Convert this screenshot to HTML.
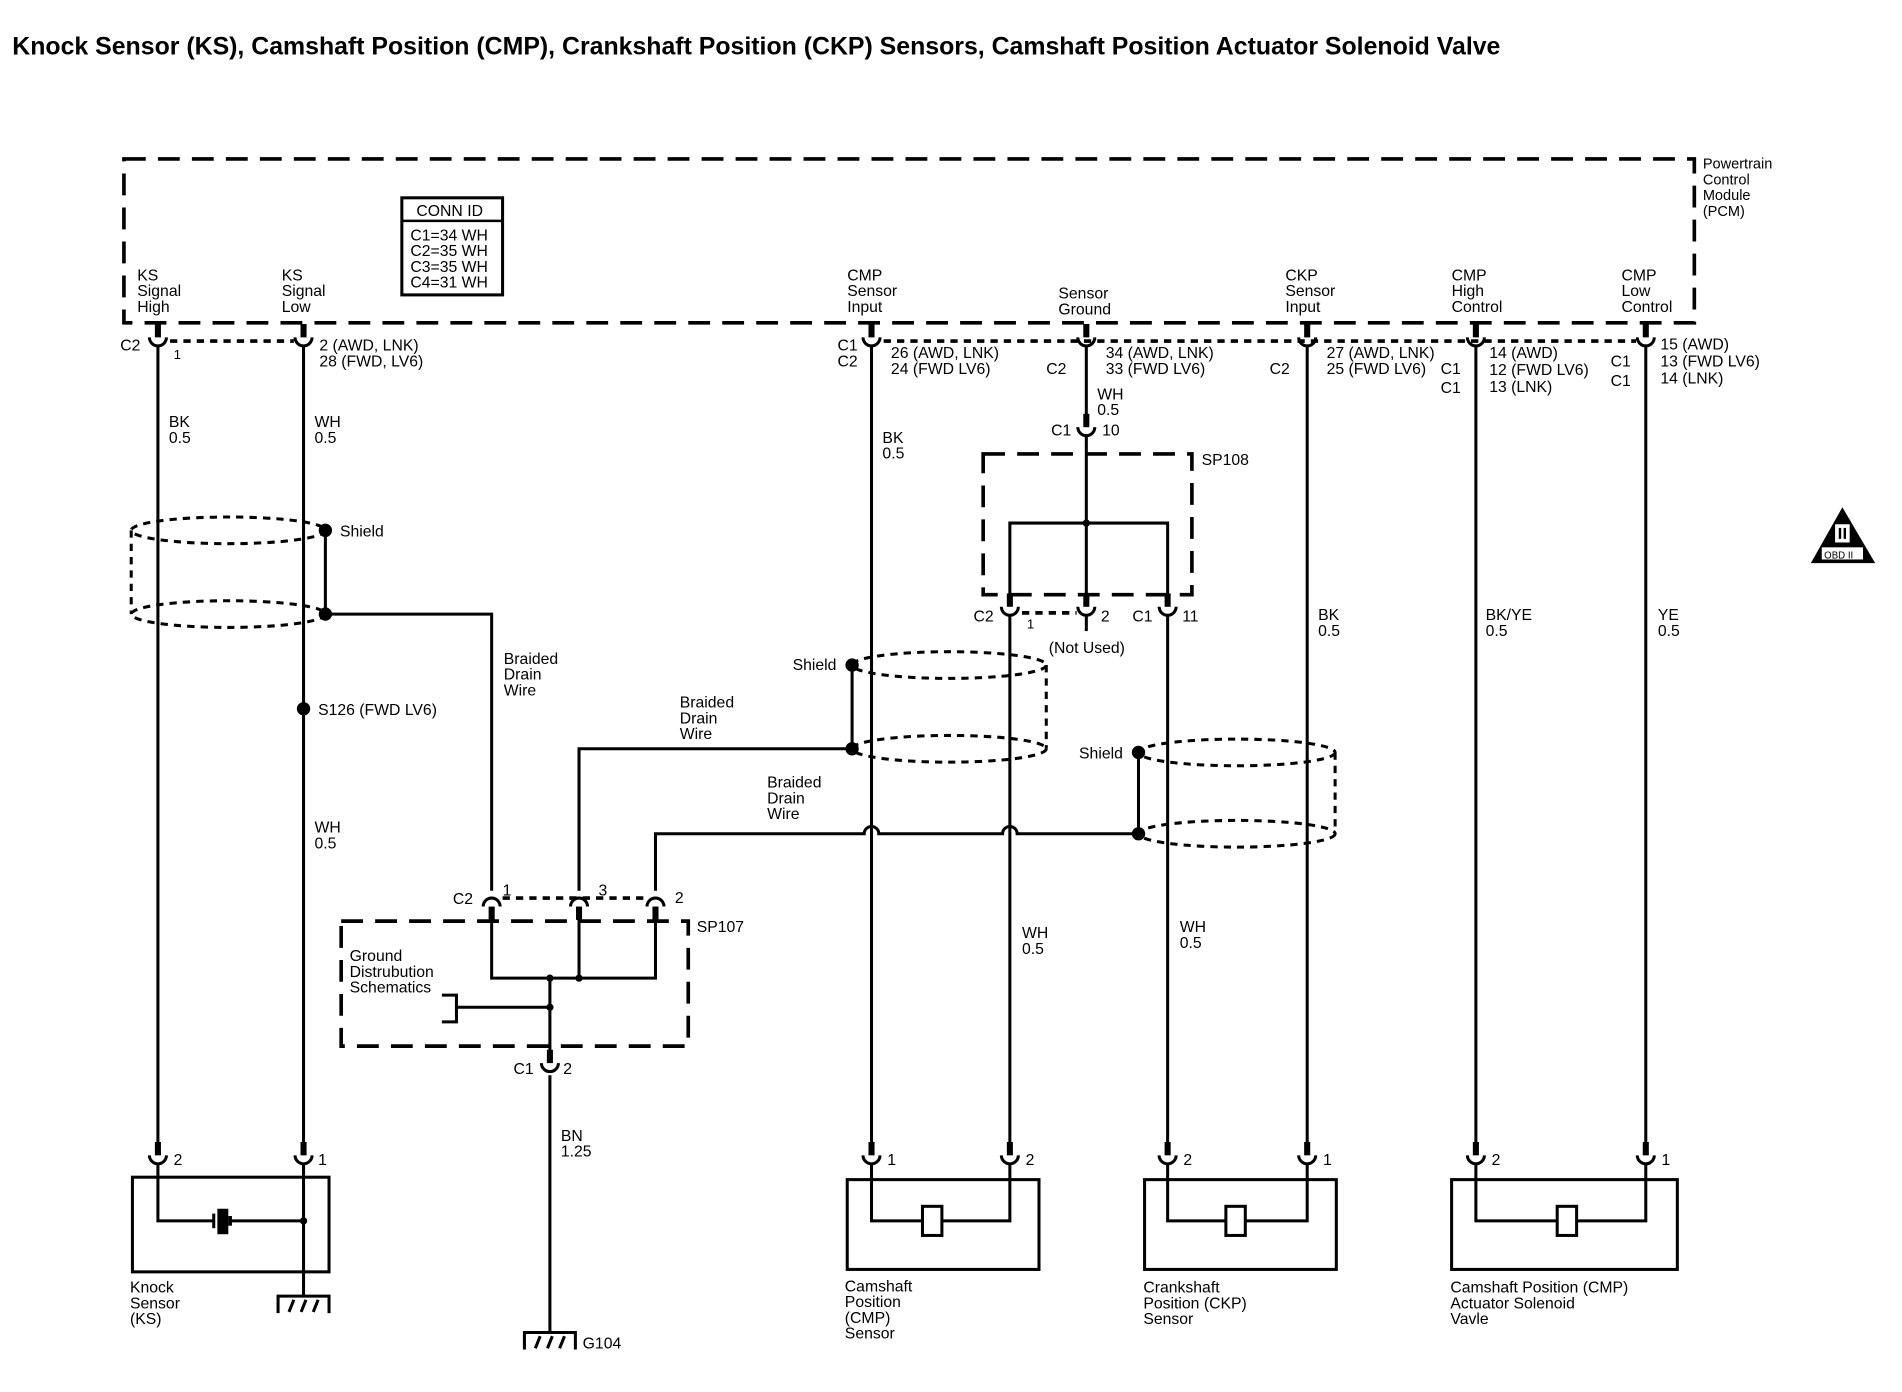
<!DOCTYPE html>
<html><head><meta charset="utf-8"><style>
html,body{margin:0;padding:0;background:#fff;}
svg{display:block;}
text{font-family:"Liberation Sans",sans-serif;font-size:13px;fill:#000;}
</style></head><body>
<svg width="1902" height="1392" viewBox="0 0 1567 1147" xmlns="http://www.w3.org/2000/svg">
<defs>
<g id="cu"><rect x="-2.5" y="-16" width="5" height="11" fill="#000"/><path d="M-7,-5 A7,7 0 0 0 7,-5" fill="none" stroke="#000" stroke-width="2.5"/></g>
<g id="cd"><rect x="-2.5" y="5" width="5" height="11" fill="#000"/><path d="M-7,5 A7,7 0 0 1 7,5" fill="none" stroke="#000" stroke-width="2.5"/></g>
<g id="gnd"><path d="M-21,14 V0 H21 V14" fill="none" stroke="#000" stroke-width="2.5"/><path d="M-12,13 L-8,3 M-2,13 L2,3 M8,13 L12,3" stroke="#000" stroke-width="2.5"/></g>
</defs>
<text x="10" y="45" style="font-size:20.5px;font-weight:bold">Knock Sensor (KS), Camshaft Position (CMP), Crankshaft Position (CKP) Sensors, Camshaft Position Actuator Solenoid Valve</text>

<g fill="none" stroke="#000" stroke-width="3" stroke-dasharray="18 10">
<rect x="102" y="131" width="1294" height="135"/>
<rect x="810" y="374" width="172" height="116"/>
<rect x="281" y="759" width="286" height="103"/>
</g>
<g style="font-size:12px">
<text x="1403" y="139" style="font-size:12px">Powertrain</text><text x="1403" y="152" style="font-size:12px">Control</text><text x="1403" y="165" style="font-size:12px">Module</text><text x="1403" y="178" style="font-size:12px">(PCM)</text>
</g>
<rect x="331" y="163" width="83" height="80" fill="none" stroke="#000" stroke-width="2.5"/>
<line x1="331" y1="182" x2="414" y2="182" stroke="#000" stroke-width="2"/>
<text x="343" y="178">CONN ID</text>
<text x="338" y="198">C1=34 WH</text><text x="338" y="211">C2=35 WH</text><text x="338" y="224">C3=35 WH</text><text x="338" y="237">C4=31 WH</text>

<text x="113" y="231">KS</text><text x="113" y="244">Signal</text><text x="113" y="257">High</text>
<text x="232" y="231">KS</text><text x="232" y="244">Signal</text><text x="232" y="257">Low</text>
<text x="698" y="231">CMP</text><text x="698" y="244">Sensor</text><text x="698" y="257">Input</text>
<text x="872" y="246">Sensor</text><text x="872" y="259">Ground</text>
<text x="1059" y="231">CKP</text><text x="1059" y="244">Sensor</text><text x="1059" y="257">Input</text>
<text x="1196" y="231">CMP</text><text x="1196" y="244">High</text><text x="1196" y="257">Control</text>
<text x="1336" y="231">CMP</text><text x="1336" y="244">Low</text><text x="1336" y="257">Control</text>

<g stroke="#000" stroke-width="3" stroke-dasharray="6 5">
<line x1="140" y1="281" x2="242" y2="281"/>
<line x1="728" y1="281" x2="1348" y2="281"/>
<line x1="842" y1="505" x2="887" y2="505"/>
<line x1="414" y1="740" x2="532" y2="740"/>
</g>

<g stroke="#000" stroke-width="2.5" fill="none">
<line x1="130" y1="285" x2="130" y2="944"/>
<line x1="250" y1="285" x2="250" y2="944"/>
<line x1="718" y1="285" x2="718" y2="944"/>
<line x1="895" y1="285" x2="895" y2="346"/>
<line x1="895" y1="360" x2="895" y2="498"/>
<line x1="1077" y1="285" x2="1077" y2="944"/>
<line x1="1216" y1="285" x2="1216" y2="944"/>
<line x1="1356" y1="285" x2="1356" y2="944"/>
<polyline points="832,498 832,431 962,431 962,498"/>
<line x1="832" y1="507" x2="832" y2="944"/>
<line x1="962" y1="507" x2="962" y2="944"/>
<line x1="895" y1="507" x2="895" y2="520"/>
<line x1="268" y1="437" x2="268" y2="506"/>
<polyline points="268,506 405,506 405,734"/>
<line x1="702" y1="548" x2="702" y2="617"/>
<polyline points="702,617 477,617 477,734"/>
<line x1="938" y1="620" x2="938" y2="687"/>
<path d="M938,687 H838 A6,6 0 0 0 826,687 H724 A6,6 0 0 0 712,687 H540 V734"/>
<polyline points="405,748 405,806 540,806 540,748"/>
<line x1="477" y1="748" x2="477" y2="806"/>
<line x1="453" y1="806" x2="453" y2="872"/>
<line x1="376" y1="830" x2="453" y2="830"/>
<polyline points="364,820 376,820 376,842 364,842"/>
<line x1="453" y1="886" x2="453" y2="1098"/>
</g>
<g fill="#000">
<circle cx="895" cy="431" r="3"/><circle cx="453" cy="806" r="3"/><circle cx="477" cy="806" r="3"/><circle cx="453" cy="830" r="3"/>
<circle cx="268" cy="437" r="5.5"/><circle cx="268" cy="506" r="5.5"/><circle cx="250" cy="584" r="5.5"/>
<circle cx="702" cy="548" r="5.5"/><circle cx="702" cy="617" r="5.5"/>
<circle cx="938" cy="620" r="5.5"/><circle cx="938" cy="687" r="5.5"/>
</g>
<g fill="none" stroke="#000" stroke-width="2.5" stroke-dasharray="6 5">
<ellipse cx="188" cy="437" rx="80" ry="11"/><ellipse cx="188" cy="506" rx="80" ry="11"/>
<line x1="108" y1="437" x2="108" y2="506"/>
<ellipse cx="782" cy="548" rx="80" ry="11"/><ellipse cx="782" cy="617" rx="80" ry="11"/>
<line x1="862" y1="548" x2="862" y2="617"/>
<ellipse cx="1019" cy="620" rx="81" ry="11"/><ellipse cx="1019" cy="687" rx="81" ry="11"/>
<line x1="1100" y1="620" x2="1100" y2="687"/>
</g>

<use href="#cu" x="130" y="283"/><use href="#cu" x="250" y="283"/>
<use href="#cu" x="718" y="283"/><use href="#cu" x="895" y="283"/>
<use href="#cu" x="1077" y="283"/><use href="#cu" x="1216" y="283"/><use href="#cu" x="1356" y="283"/>
<use href="#cu" x="895" y="357"/>
<use href="#cu" x="832" y="505"/><use href="#cu" x="895" y="505"/><use href="#cu" x="962" y="505"/>
<use href="#cd" x="405" y="742"/><use href="#cd" x="477" y="742"/><use href="#cd" x="540" y="742"/>
<use href="#cu" x="453" y="881"/>
<use href="#cu" x="130" y="957"/><use href="#cu" x="250" y="957"/>
<use href="#cu" x="718" y="957"/><use href="#cu" x="832" y="957"/>
<use href="#cu" x="962" y="957"/><use href="#cu" x="1077" y="957"/>
<use href="#cu" x="1216" y="957"/><use href="#cu" x="1356" y="957"/>

<text x="99" y="289">C2</text><text x="143" y="296" style="font-size:11px">1</text>
<text x="263" y="289">2 (AWD, LNK)</text><text x="263" y="302">28 (FWD, LV6)</text>
<text x="690" y="289">C1</text><text x="690" y="302">C2</text>
<text x="734" y="295">26 (AWD, LNK)</text><text x="734" y="308">24 (FWD LV6)</text>
<text x="862" y="308">C2</text>
<text x="911" y="295">34 (AWD, LNK)</text><text x="911" y="308">33 (FWD LV6)</text>
<text x="1046" y="308">C2</text>
<text x="1093" y="295">27 (AWD, LNK)</text><text x="1093" y="308">25 (FWD LV6)</text>
<text x="1187" y="308">C1</text><text x="1187" y="324">C1</text>
<text x="1227" y="295">14 (AWD)</text><text x="1227" y="309">12 (FWD LV6)</text><text x="1227" y="323">13 (LNK)</text>
<text x="1327" y="302">C1</text><text x="1327" y="318">C1</text>
<text x="1368" y="288">15 (AWD)</text><text x="1368" y="302">13 (FWD LV6)</text><text x="1368" y="316">14 (LNK)</text>

<text x="139" y="352">BK</text><text x="139" y="365">0.5</text>
<text x="259" y="352">WH</text><text x="259" y="365">0.5</text>
<text x="727" y="365">BK</text><text x="727" y="378">0.5</text>
<text x="904" y="329">WH</text><text x="904" y="342">0.5</text>
<text x="866" y="359">C1</text><text x="908" y="359">10</text>
<text x="990" y="383">SP108</text>
<text x="280" y="442">Shield</text>
<text x="262" y="589">S126 (FWD LV6)</text>
<text x="259" y="686">WH</text><text x="259" y="699">0.5</text>
<text x="415" y="547">Braided</text><text x="415" y="560">Drain</text><text x="415" y="573">Wire</text>
<text x="560" y="583">Braided</text><text x="560" y="596">Drain</text><text x="560" y="609">Wire</text>
<text x="632" y="649">Braided</text><text x="632" y="662">Drain</text><text x="632" y="675">Wire</text>
<text x="653" y="552">Shield</text>
<text x="889" y="625">Shield</text>
<text x="802" y="512">C2</text><text x="846" y="518" style="font-size:11px">1</text>
<text x="907" y="512">2</text><text x="864" y="538">(Not Used)</text>
<text x="933" y="512">C1</text><text x="974" y="512">11</text>
<text x="1086" y="511">BK</text><text x="1086" y="524">0.5</text>
<text x="1224" y="511">BK/YE</text><text x="1224" y="524">0.5</text>
<text x="1366" y="511">YE</text><text x="1366" y="524">0.5</text>
<text x="842" y="773">WH</text><text x="842" y="786">0.5</text>
<text x="972" y="768">WH</text><text x="972" y="781">0.5</text>
<text x="373" y="745">C2</text><text x="414" y="738">1</text><text x="493" y="738">3</text><text x="556" y="744">2</text>
<text x="574" y="768">SP107</text>
<text x="288" y="792">Ground</text><text x="288" y="805">Distrubution</text><text x="288" y="818">Schematics</text>
<text x="423" y="885">C1</text><text x="464" y="885">2</text>
<text x="462" y="940">BN</text><text x="462" y="953">1.25</text>

<g fill="none" stroke="#000" stroke-width="2.5">
<rect x="109" y="970" width="162" height="78"/>
<rect x="698" y="972" width="158" height="74"/>
<rect x="943" y="972" width="158" height="74"/>
<rect x="1196" y="972" width="186" height="74"/>
<polyline points="130,959 130,1006 176,1006"/><polyline points="190,1006 250,1006"/>
<line x1="250" y1="959" x2="250" y2="1068"/>
<line x1="176" y1="1000" x2="176" y2="1012"/>
<polyline points="718,959 718,1006 760,1006"/><polyline points="776,1006 832,1006 832,959"/>
<rect x="760" y="994" width="16" height="24"/>
<polyline points="962,959 962,1006 1010,1006"/><polyline points="1026,1006 1077,1006 1077,959"/>
<rect x="1010" y="994" width="16" height="24"/>
<polyline points="1216,959 1216,1006 1283,1006"/><polyline points="1299,1006 1356,1006 1356,959"/>
<rect x="1283" y="994" width="16" height="24"/>
</g>
<rect x="179" y="996" width="9" height="21" fill="#000"/><rect x="188" y="1002" width="3" height="8" fill="#000"/>
<circle cx="250" cy="1006" r="3" fill="#000"/>
<use href="#gnd" x="250" y="1068"/>
<use href="#gnd" x="453" y="1098"/>
<text x="480" y="1111">G104</text>
<text x="262" y="960">1</text>
<text x="143" y="960">2</text>
<text x="731" y="960">1</text><text x="845" y="960">2</text>
<text x="975" y="960">2</text><text x="1090" y="960">1</text>
<text x="1229" y="960">2</text><text x="1369" y="960">1</text>
<text x="107" y="1065">Knock</text><text x="107" y="1078">Sensor</text><text x="107" y="1091">(KS)</text>
<text x="696" y="1064">Camshaft</text><text x="696" y="1077">Position</text><text x="696" y="1090">(CMP)</text><text x="696" y="1103">Sensor</text>
<text x="942" y="1065">Crankshaft</text><text x="942" y="1078">Position (CKP)</text><text x="942" y="1091">Sensor</text>
<text x="1195" y="1065">Camshaft Position (CMP)</text><text x="1195" y="1078">Actuator Solenoid</text><text x="1195" y="1091">Vavle</text>

<polygon points="1518,418 1492,464 1545,464" fill="#000"/>
<rect x="1512" y="432" width="12" height="15" fill="#fff"/>
<rect x="1515" y="435" width="2" height="9" fill="#000"/><rect x="1519" y="435" width="2" height="9" fill="#000"/>
<rect x="1501" y="451" width="34" height="10" fill="#fff"/>
<text x="1503" y="460" style="font-size:8px">OBD II</text>
</svg>
</body></html>
